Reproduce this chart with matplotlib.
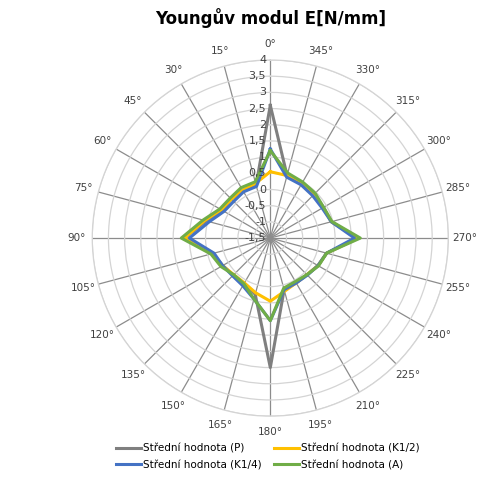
import numpy as np
import matplotlib
matplotlib.use("Agg")
import matplotlib.pyplot as plt

# úhly 0..345 po 15 stupních
angles_deg = list(range(0, 360, 15))

# hodnoty (0°, 15°, ... 345°)
val_P = [2.6, 0.2, 0.2, 0.2, 0.22, 0.55, 1.15, 0.35, 0.2, 0.12, 0.12, 0.3, 2.5,
         0.15, 0.1, 0.1, 0.2, 0.3, 1.2, 0.45, 0.4, 0.42, 0.45, 0.5]
val_K12 = [0.55, 0.25, 0.2, 0.2, 0.25, 0.6, 1.15, 0.35, 0.2, 0.1, 0.1, 0.25, 0.45,
           0.2, 0.1, 0.1, 0.2, 0.3, 1.2, 0.45, 0.38, 0.4, 0.45, 0.5]
val_K14 = [1.25, 0.15, 0.15, 0.1, 0.15, 0.45, 1.0, 0.3, 0.2, 0.15, 0.2, 0.45, 1.05,
           0.15, 0.1, 0.12, 0.2, 0.3, 1.1, 0.45, 0.35, 0.35, 0.4, 0.45]
val_A = [1.2, 0.3, 0.3, 0.25, 0.3, 0.65, 1.25, 0.4, 0.26, 0.1, 0.13, 0.45, 1.05,
         0.1, 0.05, 0.1, 0.22, 0.3, 1.28, 0.47, 0.4, 0.46, 0.5, 0.58]

series_names = ["Střední hodnota (P)", "Střední hodnota (K1/2)",
                "Střední hodnota (K1/4)", "Střední hodnota (A)"]
series_colors = ["#7f7f7f", "#ffc000", "#4472c4", "#70ad47"]

r_ticks = [-1.5, -1, -0.5, 0, 0.5, 1, 1.5, 2, 2.5, 3, 3.5, 4]


def fmt(v):
    return ("%g" % v).replace(".", ",")


fig = plt.figure(figsize=(4.78, 4.8), dpi=100)
ax = fig.add_axes([0.193, 0.133, 0.745, 0.742], projection="polar")
ax.set_theta_zero_location("N")
ax.set_theta_direction(1)
ax.set_ylim(-1.5, 4)

theta = np.deg2rad(angles_deg)
theta_c = np.append(theta, theta[0])

handles = []
for vals, name, col in zip([val_P, val_K12, val_K14, val_A], series_names, series_colors):
    v = np.append(vals, vals[0])
    h, = ax.plot(theta_c, v, color=col, lw=2.2, solid_joinstyle="round", label=name, zorder=3)
    handles.append(h)

# mřížka
ax.set_xticks(theta)
ax.set_xticklabels([f"{a}°" for a in angles_deg], fontsize=7.5, color="#404040")
ax.tick_params(axis="x", pad=1)
ax.set_yticks(r_ticks)
ax.set_yticklabels([])
ax.xaxis.grid(True, color="#8c8c8c", lw=0.9)
ax.yaxis.grid(True, color="#d4d4d4", lw=0.9)
ax.spines["polar"].set_color("#d4d4d4")
ax.spines["polar"].set_linewidth(0.9)

for r in r_ticks:
    ax.annotate(fmt(r), xy=(0, r), xytext=(-3, 0), textcoords="offset points",
                ha="right", va="center", fontsize=8, color="#404040", zorder=4)

fig.text(0.567, 0.962, "Youngův modul E[N/mm]", ha="center", va="center",
         fontsize=12, fontweight="bold", color="#000000")

# pořadí tak, aby řádky byly P, K1/2 / K1/4, A
order = [0, 2, 1, 3]
fig.legend(handles=[handles[i] for i in order],
           labels=[series_names[i] for i in order], loc="center",
           bbox_to_anchor=(0.56, 0.048), ncol=2, frameon=False, fontsize=7.5,
           handlelength=2.4, handletextpad=0.2, columnspacing=1.2, labelspacing=0.6)

fig.savefig("out.png", dpi=100)
